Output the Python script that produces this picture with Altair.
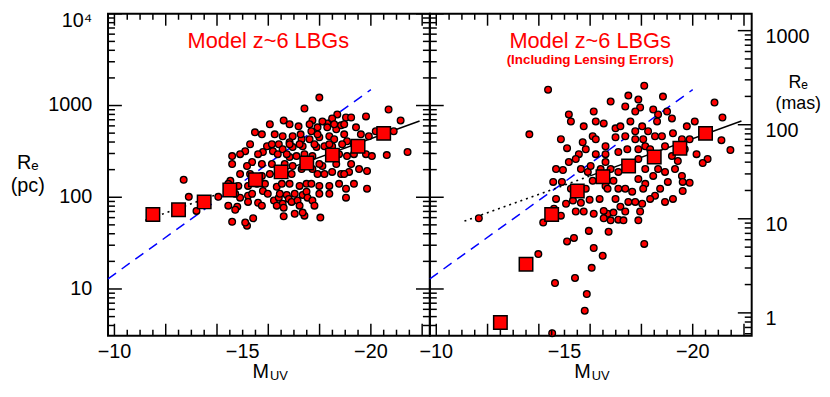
import altair as alt
import pandas as pd
import numpy as np

W, H = 325, 325
X_DOMAIN = [-22.3, -9.75]
PC_DOMAIN = [3.1, 10000]
MAS_DOMAIN = [0.573, 1510]
FONT = "Liberation Sans"

# ---------------- data ----------------
left_M = [-17.99, -17.41, -20.69, -16.60, -15.48, -17.18, -19.81, -21.16, -19.42, -21.43, -20.62, -12.70,
          -14.59, -18.69, -17.72, -18.30, -16.56, -17.68, -18.65, -16.41, -15.95, -17.30, -17.99, -19.07,
          -19.92, -15.79, -16.95, -18.19, -19.81, -15.37, -16.83, -17.72, -19.07, -15.17, -15.75, -17.30,
          -18.49, -19.54, -12.90, -14.05, -14.83, -15.56, -16.33, -17.22, -18.38, -19.03, -19.85, -13.20,
          -14.59, -15.17, -15.41, -16.60, -17.03, -17.41, -18.03, -19.03, -16.22, -16.72,
          -18.49, -19.03, -19.23, -18.11, -16.95, -17.92, -18.30, -18.84, -20.19, -20.89, -17.26,
          -16.83, -17.61, -18.38, -18.57, -15.10, -16.18, -16.56, -17.34, -17.88, -18.49,
          -17.10, -20.04, -16.95, -17.72, -18.11, -18.84, -19.15, -19.85,
          -14.52, -15.21, -17.49, -17.99,
          -14.79, -14.71, -14.90, -15.21, -15.21, -15.10, -15.60, -15.79, -16.41, -16.56, -16.60,
          -16.80, -16.91, -17.14, -17.34, -17.34, -17.49, -17.53, -17.72,
          -16.06, -16.83, -17.61, -18.57, -18.96,
          -15.75, -16.25, -17.92, -18.96, -19.61,
          -15.29, -16.14, -16.83, -17.22, -17.80, -18.38, -18.88, -19.34,
          -14.90, -15.60, -16.37, -16.72, -17.41, -18.38, -18.76, -19.34,
          -14.59, -15.75, -16.14, -16.64, -17.61, -17.99, -18.65, -19.23,
          -14.90, -15.29, -16.06, -16.64, -16.91, -17.92, -18.19, -18.96,
          -14.44, -15.87, -16.53, -16.83, -17.68, -18.76, -19.34,
          -14.71, -15.37, -15.98, -16.45, -17.03, -17.99, -18.38,
          -14.44, -15.75, -16.33, -17.22, -17.80]
left_Re = [1220, 929, 906, 688, 510, 593, 761, 688, 578, 311, 288, 155,
           281, 800, 688, 638, 462, 524, 551, 378, 360, 429, 451, 408,
           462, 311, 352, 360, 295, 242, 274, 281, 281, 219, 171, 203,
           189, 203, 101, 101, 133, 140, 130, 133, 133, 124, 124, 71,
           54, 49, 59, 62, 66, 63, 60, 99, 92, 106,
           723, 741, 741, 671, 462, 578, 578, 608, 524, 524, 485,
           398, 429, 462, 429, 318, 318, 334, 360, 352, 360,
           281, 281, 219, 203, 219, 179, 189, 193,
           151, 133, 140, 133,
           79, 73, 99, 104, 89, 53, 87, 117, 99, 85, 77,
           96, 89, 92, 68, 106, 115, 99, 92,
           624, 624, 624, 624, 624,
           485, 485, 485, 485, 485,
           378, 378, 378, 378, 378, 378, 378, 378,
           295, 295, 295, 295, 295, 295, 295, 295,
           230, 230, 230, 230, 230, 230, 230, 230,
           179, 179, 179, 179, 179, 179, 179, 179,
           140, 140, 140, 140, 140, 140, 140,
           109, 109, 109, 109, 109, 109, 109,
           81, 81, 81, 81, 81]

right_M = [-14.36, -18.11, -17.49, -18.84, -16.80, -20.85, -15.17, -18.65, -21.16, -13.63, -15.75, -16.99,
           -18.03, -19.77, -16.10, -17.37, -18.80, -19.58, -21.12, -21.47, -20.15, -15.10, -16.22, -17.10,
           -18.15, -19.19, -15.17, -16.60, -17.88, -18.65, -19.58, -14.56, -15.91, -16.60, -17.88, -19.03,
           -19.88, -11.66, -14.17, -14.59, -15.06, -15.64, -16.14, -16.68, -17.10, -17.49, -18.03, -18.53,
           -19.23, -15.95, -15.10, -16.14, -16.49, -18.11, -13.98, -16.06, -14.63, -15.41, -15.87, -15.79,
           -14.52,
           -17.88, -17.37, -17.95, -18.46, -19.19, -16.53, -17.18, -17.76, -18.26, -15.71, -16.60,
           -16.99, -18.53, -19.23, -20.58, -20.39, -15.56, -16.60, -17.88, -18.92, -19.42, -15.44,
           -16.02, -17.10, -18.92, -14.94, -14.90, -16.10, -16.91, -17.10, -18.15, -18.46, -19.61,
           -17.64,
           -14.86, -15.33, -15.44, -15.98, -16.53, -16.53, -16.80, -16.91, -17.30, -17.18, -17.76,
           -17.88, -18.92, -19.61, -16.72, -15.37,
           -16.14, -17.76, -19.00,
           -15.25, -16.22, -17.57, -18.61, -20.08,
           -14.86, -16.22, -17.76, -18.07, -19.88,
           -15.83, -17.45, -18.34, -19.69,
           -14.67, -15.64, -16.41, -16.80, -17.57, -18.15, -19.31,
           -15.25, -15.83, -16.68, -17.37, -18.07, -18.73,
           -14.67, -16.37, -16.99, -18.34,
           -15.75, -17.37, -17.95]
right_Re = [1489, 1644, 1283, 1251, 1105, 1077, 800, 800, 741, 485, 593, 564,
            593, 593, 462, 462, 462, 429, 419, 327, 295, 343, 295, 311,
            360, 281, 242, 242, 261, 203, 171, 147, 189, 133, 158, 147,
            144, 59, 53, 75, 85, 87, 66, 66, 57, 89, 85, 104,
            96, 43, 33, 28, 23, 31, 24, 17, 11.6, 13.2, 8.8, 5.8,
            3.3,
            1161, 975, 951, 906, 723, 638, 593, 524, 524, 398, 360,
            451, 462, 498, 261, 236, 295, 295, 334, 360, 248, 261,
            219, 189, 189, 198, 147, 151, 151, 124, 140, 171, 147,
            115,
            63, 92, 70, 94, 71, 59, 56, 68, 56, 79, 89,
            56, 89, 117, 42, 36,
            861, 861, 861,
            671, 671, 671, 671, 671,
            429, 429, 429, 429, 429,
            334, 334, 334, 334,
            203, 203, 203, 203, 203, 203, 203,
            124, 124, 124, 124, 124, 124,
            96, 96, 96, 96,
            70, 70, 70]

left_sq_M = [-11.5, -12.5, -13.5, -14.5, -15.5, -16.5, -17.5, -18.5, -19.5, -20.5]
left_sq_Re = [65, 73, 89, 120, 155, 189, 236, 288, 360, 497]
right_sq_M = [-12.5, -13.5, -14.5, -15.5, -16.5, -17.5, -18.5, -19.5, -20.5]
right_sq_Re = [4.3, 18.6, 65, 117, 167, 219, 274, 343, 497]

fit_dot_left_M = [-11.2, -16.0]
fit_dot_left_Re = [56, 171]
fit_dot_right_M = [-11.1, -16.0]
fit_dot_right_Re = [55, 171]
fit_solid_M = [-16.0, -21.9]
fit_solid_Re = [171, 679]

blue_M = [-9.75, -20.0]
blue_Re = [12.9, 1490]

title_M = [-16.0]
title_Re = [5050]
subtitle_Re = [3140]

x_label_vals = [-10, -15, -20]
x_label_txt = ["\u221210", "\u221215", "\u221220"]
y_label_vals = [10, 100, 1000]
y_label_txt = ["10", "100", "1000"]
y_top_val = [10000]
y_top_txt = ["10\u2074"]
mas_label_vals = [1, 10, 100, 1000]
mas_label_txt = ["1", "10", "100", "1000"]

# tick positions
x_major = [-10, -12, -14, -16, -18, -20, -22]
x_minor = [float(v) for v in np.arange(-10.0, -22.01, -0.5) if v not in x_major]


def log_ticks(lo, hi):
    major, minor = [], []
    for e in range(-2, 6):
        for m in range(1, 10):
            v = m * 10.0 ** e
            if lo <= v <= hi:
                (major if m == 1 else minor).append(v)
    return major, minor


pc_major, pc_minor = log_ticks(*PC_DOMAIN)
mas_major, mas_minor = log_ticks(*MAS_DOMAIN)

# ---------------- scales ----------------
xs = alt.Scale(domain=X_DOMAIN, reverse=True, nice=False, zero=False)
ys = alt.Scale(type="log", domain=PC_DOMAIN, nice=False)
ms = alt.Scale(type="log", domain=MAS_DOMAIN, nice=False)

TICK_W = 1.5


def line(Ms, Res, **kw):
    df = pd.DataFrame({"M": Ms, "Re": Res})
    return alt.Chart(df).mark_line(**kw).encode(
        x=alt.X("M:Q", scale=xs, axis=None),
        y=alt.Y("Re:Q", scale=ys, axis=None),
    )


def xrules(vals, length, top):
    df = pd.DataFrame({"v": vals})
    if top:
        yy, yy2 = alt.value(0), alt.value(length)
    else:
        yy, yy2 = alt.value(H), alt.value(H - length)
    return alt.Chart(df).mark_rule(color="black", strokeWidth=TICK_W).encode(
        x=alt.X("v:Q", scale=xs, axis=None), y=yy, y2=yy2)


def yrules(vals, length, left, scale):
    df = pd.DataFrame({"v": vals})
    if left:
        xx, xx2 = alt.value(0), alt.value(length)
    else:
        xx, xx2 = alt.value(W), alt.value(W - length)
    return alt.Chart(df).mark_rule(color="black", strokeWidth=TICK_W).encode(
        y=alt.Y("v:Q", scale=scale, axis=None), x=xx, x2=xx2)


def text_value(txt, x, y, size, align="center", baseline="middle", bold=False):
    df = pd.DataFrame({"t": [txt]})
    return alt.Chart(df).mark_text(
        font=FONT, fontSize=size, align=align, baseline=baseline,
        color="black", fontWeight="bold" if bold else "normal",
    ).encode(x=alt.value(x), y=alt.value(y), text="t:N")


def x_labels():
    df = pd.DataFrame({"v": x_label_vals, "t": x_label_txt})
    return alt.Chart(df).mark_text(font=FONT, fontSize=20, color="black", baseline="middle",
                                   align="center").encode(
        x=alt.X("v:Q", scale=xs, axis=None), y=alt.value(H + 17), text="t:N")


def panel(pM, pRe, sqM, sqRe, dotM, dotRe, left):
    pts = alt.Chart(pd.DataFrame({"M": pM, "Re": pRe})).mark_circle(
        fill="#ff0000", stroke="black", strokeWidth=1.3, size=46, opacity=1
    ).encode(
        x=alt.X("M:Q", scale=xs, axis=None),
        y=alt.Y("Re:Q", scale=ys, axis=None),
    )
    sq = alt.Chart(pd.DataFrame({"M": sqM, "Re": sqRe})).mark_square(
        fill="#ff0000", stroke="black", strokeWidth=1.5, size=185, opacity=1
    ).encode(
        x=alt.X("M:Q", scale=xs, axis=None),
        y=alt.Y("Re:Q", scale=ys, axis=None),
    )
    blue = line(blue_M, blue_Re, color="#0000ff", strokeDash=[10, 7], strokeWidth=1.5)
    fdot = line(dotM, dotRe, color="black", strokeDash=[2, 4], strokeWidth=1.6)
    fsol = line(fit_solid_M, fit_solid_Re, color="black", strokeWidth=1.5)

    title_df = pd.DataFrame({"M": title_M, "Re": title_Re, "t": ["Model z~6 LBGs"]})
    title = alt.Chart(title_df).mark_text(
        font=FONT, fontSize=22, color="#ff0000", baseline="middle", align="center"
    ).encode(x=alt.X("M:Q", scale=xs, axis=None), y=alt.Y("Re:Q", scale=ys, axis=None), text="t:N")

    layers = [blue, fdot, fsol, pts, sq, title,
              xrules(x_major, 12, False), xrules(x_minor, 6, False),
              xrules(x_major, 12, True), xrules(x_minor, 6, True),
              x_labels(),
              text_value("M", W / 2, H + 43, 20, align="right", baseline="alphabetic"),
              text_value("UV", W / 2 + 1, H + 45, 13, align="left", baseline="alphabetic")]
    if left:
        ylab = alt.Chart(pd.DataFrame({"v": y_label_vals, "t": y_label_txt})).mark_text(
            font=FONT, fontSize=20, color="black", baseline="middle", align="right"
        ).encode(y=alt.Y("v:Q", scale=ys, axis=None), x=alt.value(-16), text="t:N")
        ytop = alt.Chart(pd.DataFrame({"v": y_top_val, "t": y_top_txt})).mark_text(
            font=FONT, fontSize=20, color="black", baseline="top", align="right", dy=-3
        ).encode(y=alt.Y("v:Q", scale=ys, axis=None), x=alt.value(-16), text="t:N")
        layers += [yrules(pc_major, 14, True, ys), yrules(pc_minor, 7, True, ys),
                   yrules(pc_major, 14, False, ys), yrules(pc_minor, 7, False, ys),
                   ylab, ytop,
                   text_value("R\u2091", -81, H / 2 - 12, 20),
                   text_value("(pc)", -81, H / 2 + 11, 20)]
    else:
        sub_df = pd.DataFrame({"M": title_M, "Re": subtitle_Re, "t": ["(Including Lensing Errors)"]})
        sub = alt.Chart(sub_df).mark_text(
            font=FONT, fontSize=13.5, fontWeight="bold", color="#ff0000", baseline="middle", align="center"
        ).encode(x=alt.X("M:Q", scale=xs, axis=None), y=alt.Y("Re:Q", scale=ys, axis=None), text="t:N")
        layers += [sub, yrules(pc_major, 14, True, ys), yrules(pc_minor, 7, True, ys)]
    return alt.layer(*layers)


left = panel(left_M, left_Re, left_sq_M, left_sq_Re, fit_dot_left_M, fit_dot_left_Re, True)
left = left.properties(width=W, height=H)

right_pc = panel(right_M, right_Re, right_sq_M, right_sq_Re, fit_dot_right_M, fit_dot_right_Re, False)

mas_major_rules = alt.Chart(pd.DataFrame({"v": mas_major})).mark_rule(
    color="black", strokeWidth=TICK_W).encode(
    y=alt.Y("v:Q", scale=ms, axis=None), x=alt.value(W), x2=alt.value(W - 14))
mas_minor_rules = alt.Chart(pd.DataFrame({"v": mas_minor})).mark_rule(
    color="black", strokeWidth=TICK_W).encode(
    y=alt.Y("v:Q", scale=ms, axis=None), x=alt.value(W), x2=alt.value(W - 7))
mas_labels = alt.Chart(pd.DataFrame({"v": mas_label_vals, "t": mas_label_txt})).mark_text(
    font=FONT, fontSize=20, color="black", baseline="middle", align="left", dy=6
).encode(y=alt.Y("v:Q", scale=ms, axis=None), x=alt.value(W + 14), text="t:N")
mas_title1 = text_value("R\u2091", W + 47, 70, 18)
mas_title2 = text_value("(mas)", W + 47, 91, 18)

right_mas = alt.layer(mas_major_rules, mas_minor_rules, mas_labels, mas_title1, mas_title2)
right = alt.layer(right_pc, right_mas).resolve_scale(y="independent").properties(width=W, height=H)

chart = alt.hconcat(left, right, spacing=0, bounds="flush").properties(
    padding={"left": 1, "top": 0, "right": 0, "bottom": 0}, background="white"
).configure_view(stroke="black", strokeWidth=2)

chart.save("out.html", embed_options={"renderer": "svg", "actions": False})
